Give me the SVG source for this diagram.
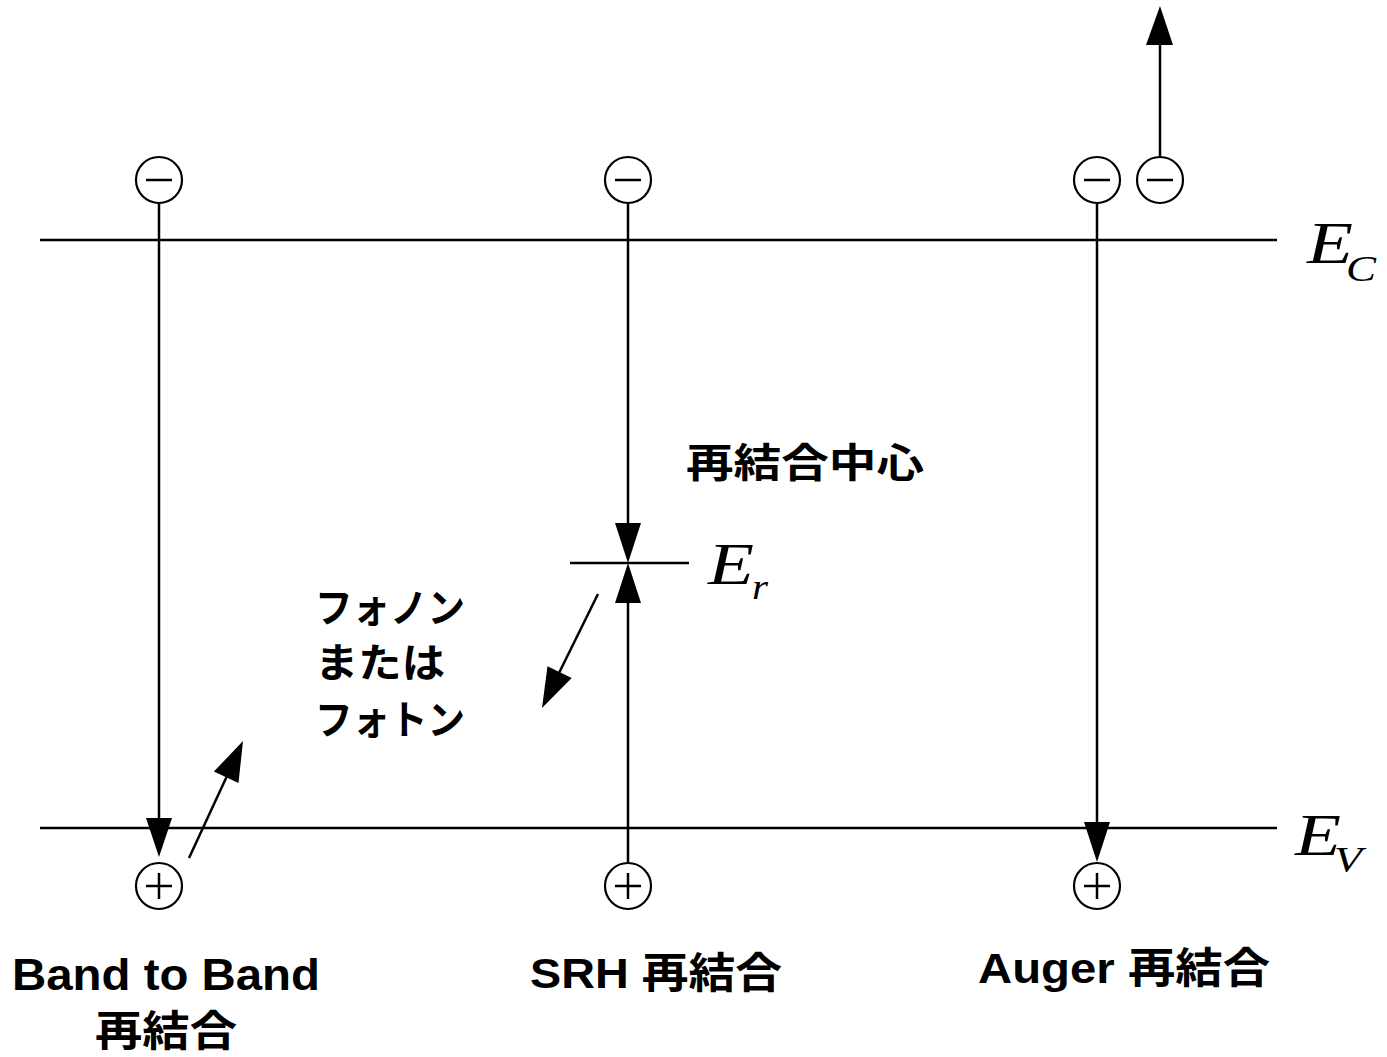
<svg xmlns="http://www.w3.org/2000/svg" width="1387" height="1057" viewBox="0 0 1387 1057">
<style>
.ln{stroke:#000;stroke-width:2.5;fill:none}
.cir{stroke:#000;stroke-width:2.2;fill:#fff}
.ah{fill:#000;stroke:none}
.jp{font-family:"Liberation Sans","Noto Sans CJK JP",sans-serif;font-weight:bold;fill:#000}
.em{font-family:"Liberation Serif",serif;font-style:italic;fill:#000}
</style>
<defs>
<g id="minus"><circle class="cir" r="23"/><line class="ln" x1="-13" y1="0" x2="13" y2="0"/></g>
<g id="plus"><circle class="cir" r="23"/><line class="ln" x1="-13" y1="0" x2="13" y2="0"/><line class="ln" x1="0" y1="-13" x2="0" y2="13"/></g>
</defs>
<g id="bands">
<line class="ln" x1="40" y1="240" x2="1277" y2="240"/>
<line class="ln" x1="40" y1="828" x2="1277" y2="828"/>
<line class="ln" x1="570" y1="563" x2="689" y2="563"/>
</g>
<g id="connectors">
<line class="ln" x1="159" y1="203" x2="159" y2="820"/>
<polygon class="ah" points="146,818 172,818 159,857"/>
<line class="ln" x1="628" y1="203" x2="628" y2="525"/>
<polygon class="ah" points="615,523 641,523 628,563"/>
<line class="ln" x1="628" y1="863" x2="628" y2="600"/>
<polygon class="ah" points="615,603 641,603 628,563"/>
<line class="ln" x1="1097" y1="203" x2="1097" y2="825"/>
<polygon class="ah" points="1084,822 1110,822 1097,862"/>
<line class="ln" x1="1160" y1="157" x2="1160" y2="42"/>
<polygon class="ah" points="1146,45 1173,45 1160,6"/>
<line class="ln" x1="189" y1="858" x2="227" y2="776"/>
<polygon class="ah" points="238.5,783 213.9,771.6 243,741"/>
<line class="ln" x1="598" y1="594" x2="559" y2="673"/>
<polygon class="ah" points="571.7,678.1 547.5,666.2 542,708"/>
</g>
<g id="electrons">
<use href="#minus" x="159" y="180"/>
<use href="#minus" x="628" y="180"/>
<use href="#minus" x="1097" y="180"/>
<use href="#minus" x="1160" y="180"/>
</g>
<g id="holes">
<use href="#plus" x="159" y="886"/>
<use href="#plus" x="628" y="886"/>
<use href="#plus" x="1097" y="886"/>
</g>
<g id="labels">
<text class="em" x="1307" y="263" font-size="60" textLength="46" lengthAdjust="spacingAndGlyphs">E</text><text class="em" x="1346" y="281" font-size="36" textLength="30" lengthAdjust="spacingAndGlyphs">C</text>
<text class="em" x="1295" y="855" font-size="60" textLength="46" lengthAdjust="spacingAndGlyphs">E</text><text class="em" x="1334" y="872" font-size="36" textLength="28" lengthAdjust="spacingAndGlyphs">V</text>
<text class="em" x="708" y="584" font-size="60" textLength="46" lengthAdjust="spacingAndGlyphs">E</text><text class="em" x="752" y="599" font-size="36" textLength="16" lengthAdjust="spacingAndGlyphs">r</text>
<text class="jp" x="686" y="477" font-size="40" textLength="238" lengthAdjust="spacingAndGlyphs">再結合中心</text>
<text class="jp" x="315" y="622" font-size="40" textLength="150" lengthAdjust="spacingAndGlyphs">フォノン</text>
<text class="jp" x="315" y="677" font-size="40" textLength="130" lengthAdjust="spacingAndGlyphs">または</text>
<text class="jp" x="315" y="734" font-size="40" textLength="150" lengthAdjust="spacingAndGlyphs">フォトン</text>
<text class="jp" x="12" y="990" font-size="44" textLength="308" lengthAdjust="spacingAndGlyphs">Band to Band</text>
<text class="jp" x="95" y="1046" font-size="42" textLength="142" lengthAdjust="spacingAndGlyphs">再結合</text>
<text class="jp" x="530" y="988" font-size="42" textLength="252" lengthAdjust="spacingAndGlyphs">SRH 再結合</text>
<text class="jp" x="978" y="983" font-size="42" textLength="292" lengthAdjust="spacingAndGlyphs">Auger 再結合</text>
</g>
</svg>
